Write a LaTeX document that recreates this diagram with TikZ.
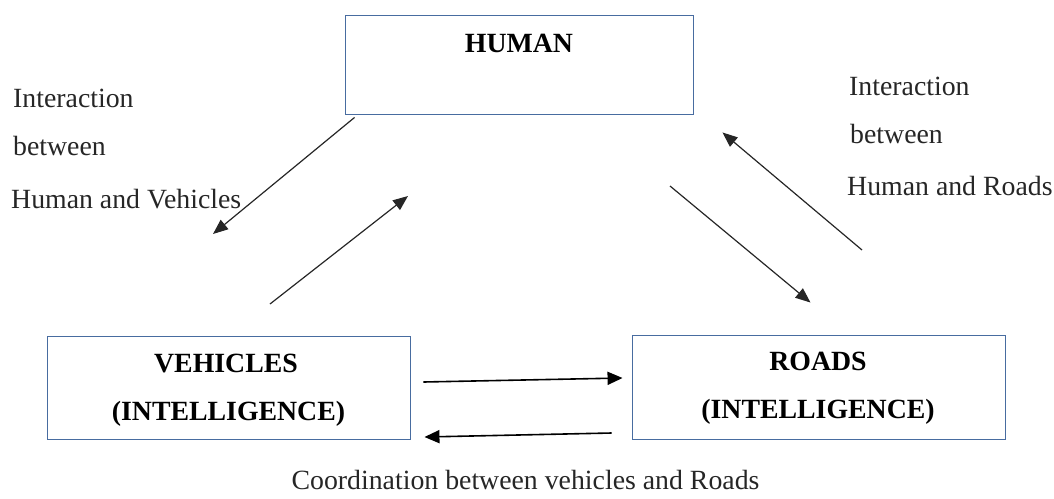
\documentclass[tikz,border=0pt]{standalone}
\usepackage{fontspec}
\setmainfont{Liberation Serif}
\usetikzlibrary{arrows.meta}
\definecolor{boxline}{RGB}{72,108,160}
\definecolor{inktext}{RGB}{38,38,38}
\tikzset{
  box/.style={draw=boxline, line width=0.9pt, rectangle, inner sep=0pt},
  plain/.style={font=\fontsize{27.8}{32}\selectfont, text=inktext, inner sep=0pt},
  heavy/.style={font=\fontsize{27.8}{32}\selectfont\bfseries, text=black, inner sep=0pt},
  diag/.style={draw=black!85, line width=1.2pt, -{Triangle[length=15pt,width=12pt]}},
  flat/.style={draw=black, line width=1.6pt, -{Triangle[length=15pt,width=13pt]}}
}
\begin{document}
\begin{tikzpicture}[x=1pt,y=-1pt]
\useasboundingbox (0,0) rectangle (1054,498);

% the three boxes
\node[box, minimum width=348pt, minimum height=99pt] (human) at (519,64.5) {};
\node[box, minimum width=363pt, minimum height=103pt] (vehicles) at (228.5,387.5) {};
\node[box, minimum width=373pt, minimum height=104pt] (roads) at (818.5,387) {};

% box titles
\node[heavy, anchor=base] (humantitle) at (519,52) {HUMAN};
\node[heavy, anchor=base] (vehtitle) at (226,372) {VEHICLES};
\node[heavy, anchor=base] (vehsub) at (228.5,420) {(INTELLIGENCE)};
\node[heavy, anchor=base] (roadtitle) at (818,370) {ROADS};
\node[heavy, anchor=base] (roadsub) at (818,418) {(INTELLIGENCE)};

% side labels
\node[plain, anchor=base west] (l1) at (13,107) {Interaction};
\node[plain, anchor=base west] (l2) at (13,155) {between};
\node[plain, anchor=base west] (l3) at (11,208) {Human and Vehicles};
\node[plain, anchor=base west] (r1) at (849,95) {Interaction};
\node[plain, anchor=base west] (r2) at (850,143) {between};
\node[plain, anchor=base west] (r3) at (847,195) {Human and Roads};

% caption
\node[plain, anchor=base] (caption) at (525.5,489) {Coordination between vehicles and Roads};

% free ends of the diagonal arrows
\coordinate (hvend) at (213,234);
\coordinate (vhstart) at (270,304);
\coordinate (vhend) at (408,196);
\coordinate (rhstart) at (862,250);
\coordinate (hrstart) at (670,186);

% human <-> vehicles
\draw[diag] ([shift={(10,3)}]human.south west) -- (hvend);
\draw[diag] (vhstart) -- (vhend);

% human <-> roads
\draw[diag] (rhstart) -- ([shift={(29,18)}]human.south east);
\draw[diag] (hrstart) -- ([shift={(-8,-32)}]roads.north);

% vehicles <-> roads
\draw[flat] ([shift={(13,-5.5)}]vehicles.east) -- ([shift={(-9,-9)}]roads.west);
\draw[flat] ([shift={(-20,46)}]roads.west) -- ([shift={(14,49.5)}]vehicles.east);
\end{tikzpicture}
\end{document}
